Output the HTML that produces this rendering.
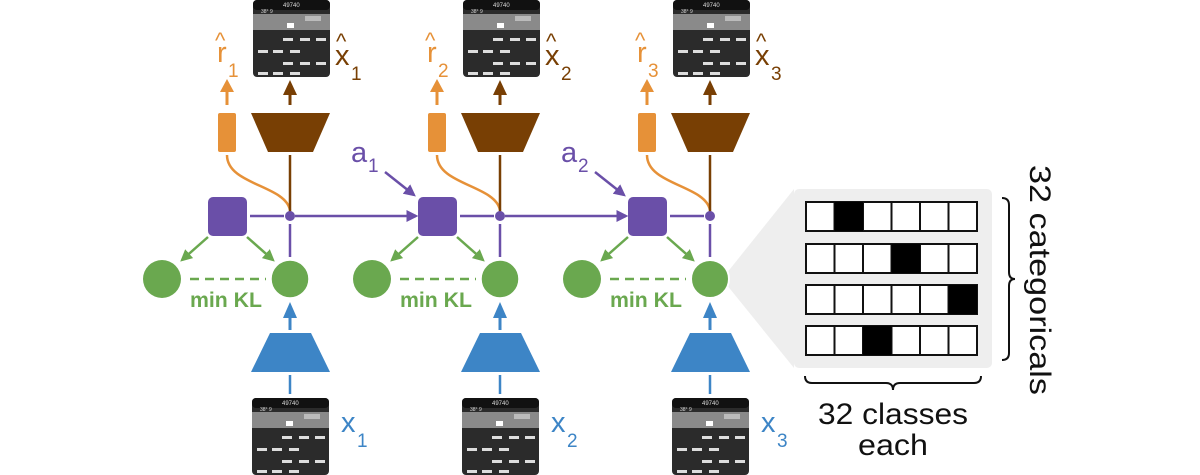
<!DOCTYPE html>
<html><head><meta charset="utf-8"><style>
html,body{margin:0;padding:0;background:#fff}
svg{display:block}
text{font-family:"Liberation Sans",sans-serif}
</style></head><body>
<svg width="1200" height="475" viewBox="0 0 1200 475" xmlns="http://www.w3.org/2000/svg">
<defs>
<marker id="ag" viewBox="0 0 10 10" markerWidth="12" markerHeight="12" refX="8" refY="5" orient="auto" markerUnits="userSpaceOnUse"><path d="M0,0 L10,5 L0,10z" fill="#6aa84f"/></marker>
<marker id="apu" viewBox="0 0 10 10" markerWidth="12" markerHeight="12" refX="8" refY="5" orient="auto" markerUnits="userSpaceOnUse"><path d="M0,0 L10,5 L0,10z" fill="#6a4fa8"/></marker>
<g id="atari">
<rect x="0" y="0" width="77" height="77" rx="4" fill="#2b2b2b"/>
<rect x="0" y="0" width="77" height="10" rx="4" fill="#111"/>
<text x="30" y="7" font-size="6" fill="#ddd">49740</text>
<text x="8" y="13" font-size="5" fill="#ddd">38° 9</text>
<rect x="0" y="14" width="77" height="16" fill="#8a8a8a"/>
<rect x="52" y="16" width="16" height="5" fill="#bbb"/>
<rect x="34" y="23" width="7" height="5" fill="#fff"/>
<g fill="#ddd">
<rect x="30" y="38" width="10" height="3"/><rect x="47" y="38" width="10" height="3"/><rect x="63" y="38" width="10" height="3"/>
<rect x="5" y="50" width="10" height="3"/><rect x="20" y="50" width="10" height="3"/><rect x="37" y="50" width="10" height="3"/>
<rect x="30" y="62" width="10" height="3"/><rect x="47" y="62" width="10" height="3"/><rect x="63" y="62" width="10" height="3"/>
<rect x="5" y="72" width="10" height="3"/><rect x="20" y="72" width="10" height="3"/><rect x="37" y="72" width="10" height="3"/>
</g>
</g>
<g id="col">
<use href="#atari" x="253" y="0"/>
<use href="#atari" x="252" y="398"/>
<line x1="227" y1="105" x2="227" y2="90" stroke="#e69138" stroke-width="3"/>
<path d="M220,92 L227,79 L234,92z" fill="#e69138"/>
<rect x="218" y="113" width="18" height="39" rx="2" fill="#e69138"/>
<path d="M227,155 C227,185 285,185 290,210" fill="none" stroke="#e69138" stroke-width="2.5"/>
<line x1="290" y1="105" x2="290" y2="92" stroke="#783f04" stroke-width="3"/>
<path d="M283,95 L290,80 L297,95z" fill="#783f04"/>
<path d="M251,113 L330,113 L313,152 L268,152z" fill="#783f04"/>
<line x1="290" y1="155" x2="290" y2="212" stroke="#783f04" stroke-width="2.5"/>
<rect x="208" y="197" width="39" height="39" rx="5" fill="#6a4fa8"/>
<line x1="250" y1="216" x2="284" y2="216" stroke="#6a4fa8" stroke-width="2.5"/>
<circle cx="290" cy="216" r="5" fill="#6a4fa8"/>
<line x1="290" y1="224" x2="290" y2="257" stroke="#6a4fa8" stroke-width="2.5"/>
<line x1="208" y1="237" x2="182" y2="260" stroke="#6aa84f" stroke-width="2.5" marker-end="url(#ag)"/>
<line x1="247" y1="237" x2="273" y2="260" stroke="#6aa84f" stroke-width="2.5" marker-end="url(#ag)"/>
<circle cx="162" cy="279" r="19" fill="#6aa84f"/>
<circle cx="290" cy="279" r="19" fill="#6aa84f" stroke="#fff" stroke-width="1.5"/>
<line x1="190" y1="279" x2="266" y2="279" stroke="#6aa84f" stroke-width="2.5" stroke-dasharray="9,6"/>
<text x="190" y="307" font-size="21" font-weight="bold" fill="#6aa84f" textLength="72" lengthAdjust="spacingAndGlyphs">min KL</text>
<line x1="290" y1="330" x2="290" y2="315" stroke="#3d85c6" stroke-width="3"/>
<path d="M283,318 L290,302 L297,318z" fill="#3d85c6"/>
<path d="M270,333 L311,333 L330,372 L251,372z" fill="#3d85c6"/>
<line x1="290" y1="375" x2="290" y2="394" stroke="#3d85c6" stroke-width="2.5"/>
</g>
</defs>
<use href="#col"/>
<use href="#col" x="210"/>
<use href="#col" x="420"/>
<line x1="295" y1="216" x2="416" y2="216" stroke="#6a4fa8" stroke-width="2.5" marker-end="url(#apu)"/>
<line x1="505" y1="216" x2="626" y2="216" stroke="#6a4fa8" stroke-width="2.5" marker-end="url(#apu)"/>
<line x1="385" y1="172" x2="414" y2="195" stroke="#6a4fa8" stroke-width="2.5" marker-end="url(#apu)"/>
<line x1="595" y1="172" x2="624" y2="195" stroke="#6a4fa8" stroke-width="2.5" marker-end="url(#apu)"/>
<text x="351" y="162" font-size="29" fill="#6a4fa8">a</text><text x="368" y="172" font-size="19" fill="#6a4fa8">1</text>
<text x="561" y="162" font-size="29" fill="#6a4fa8">a</text><text x="578" y="172" font-size="19" fill="#6a4fa8">2</text>
<g font-size="29" fill="#e69138">
<text x="217" y="62">r</text><text x="215" y="48" font-size="22">^</text><text x="228" y="77" font-size="19">1</text>
<text x="427" y="62">r</text><text x="425" y="48" font-size="22">^</text><text x="438" y="77" font-size="19">2</text>
<text x="637" y="62">r</text><text x="635" y="48" font-size="22">^</text><text x="648" y="77" font-size="19">3</text>
</g>
<g font-size="29" fill="#783f04">
<text x="335" y="65">x</text><text x="336" y="49" font-size="22">^</text><text x="351" y="80" font-size="19">1</text>
<text x="545" y="65">x</text><text x="546" y="49" font-size="22">^</text><text x="561" y="80" font-size="19">2</text>
<text x="755" y="65">x</text><text x="756" y="49" font-size="22">^</text><text x="771" y="80" font-size="19">3</text>
</g>
<g font-size="29" fill="#3d85c6">
<text x="341" y="432">x</text><text x="357" y="447" font-size="19">1</text>
<text x="551" y="432">x</text><text x="567" y="447" font-size="19">2</text>
<text x="761" y="432">x</text><text x="777" y="447" font-size="19">3</text>
</g>
<path d="M722,279 L794,189 L794,368z" fill="#eee"/>
<circle cx="710" cy="279" r="19" fill="#6aa84f" stroke="#fff" stroke-width="2"/>
<rect x="794" y="189" width="198" height="179" rx="5" fill="#eee"/>
<g stroke="#111" stroke-width="2" fill="#fff">
<g id="row"><rect x="806" y="202" width="28.5" height="29"/><rect x="834.5" y="202" width="28.5" height="29"/><rect x="863" y="202" width="28.5" height="29"/><rect x="891.5" y="202" width="28.5" height="29"/><rect x="920" y="202" width="28.5" height="29"/><rect x="948.5" y="202" width="28.5" height="29"/></g>
<use href="#row" y="42"/><use href="#row" y="83"/><use href="#row" y="124"/>
</g>
<g fill="#000">
<rect x="834.5" y="202" width="28.5" height="29"/>
<rect x="891.5" y="244" width="28.5" height="29"/>
<rect x="948.5" y="285" width="28.5" height="29"/>
<rect x="863" y="326" width="28.5" height="29"/>
</g>
<path d="M1002,198 Q1009,198 1009,205 L1009,272 Q1009,279 1015,279 Q1009,279 1009,286 L1009,353 Q1009,360 1002,360" fill="none" stroke="#111" stroke-width="2"/>
<path d="M805,376 Q805,383 812,383 L886,383 Q893,383 893,390 Q893,383 900,383 L974,383 Q981,383 981,376" fill="none" stroke="#111" stroke-width="2"/>
<text x="0" y="0" font-size="30" fill="#111" text-anchor="middle" textLength="230" lengthAdjust="spacingAndGlyphs" transform="translate(1030,280) rotate(90)">32 categoricals</text>
<text x="893" y="424" font-size="30" fill="#111" text-anchor="middle" textLength="150" lengthAdjust="spacingAndGlyphs">32 classes</text>
<text x="893" y="455" font-size="30" fill="#111" text-anchor="middle" textLength="70" lengthAdjust="spacingAndGlyphs">each</text>
</svg>
</body></html>
